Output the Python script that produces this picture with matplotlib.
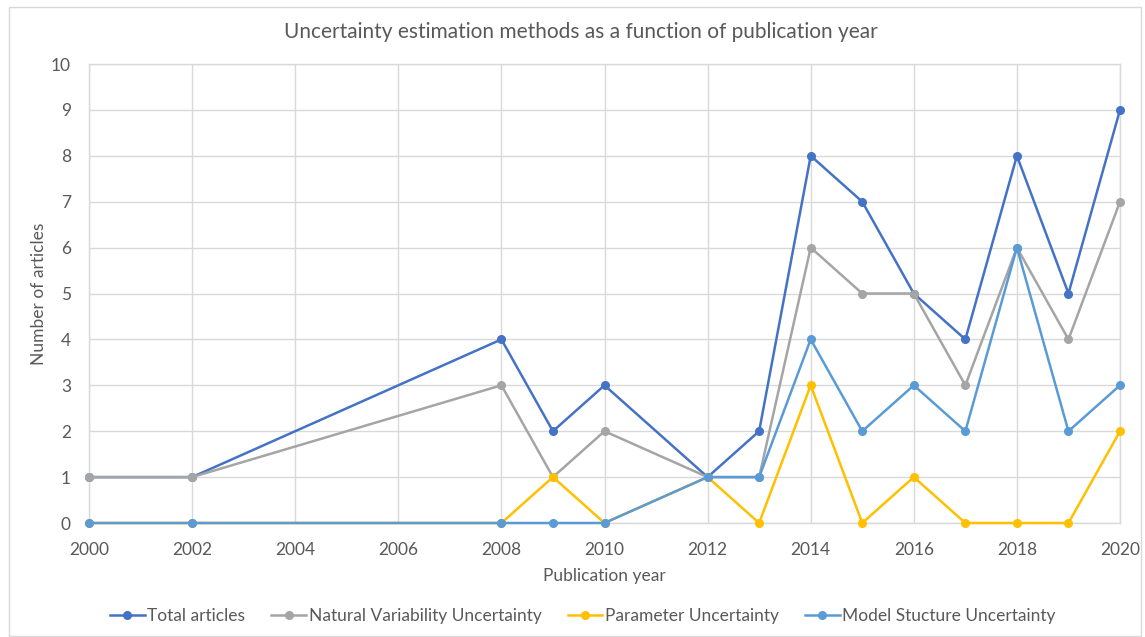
import matplotlib
matplotlib.use("Agg")
import matplotlib.pyplot as plt
import numpy as np
from matplotlib.patches import Rectangle

years = [2000, 2002, 2008, 2009, 2010, 2012, 2013, 2014, 2015, 2016, 2017, 2018, 2019, 2020]
total_articles = [1, 1, 4, 2, 3, 1, 2, 8, 7, 5, 4, 8, 5, 9]
natural_variability = [1, 1, 3, 1, 2, 1, 1, 6, 5, 5, 3, 6, 4, 7]
parameter_unc = [0, 0, 0, 1, 0, 1, 0, 3, 0, 1, 0, 0, 0, 2]
model_structure = [0, 0, 0, 0, 0, 1, 1, 4, 2, 3, 2, 6, 2, 3]

series_names = ["Total articles", "Natural Variability Uncertainty",
                "Parameter Uncertainty", "Model Stucture Uncertainty"]
series_values = [total_articles, natural_variability, parameter_unc, model_structure]
colors = ["#4472C4", "#A5A5A5", "#FFC000", "#5B9BD5"]

plt.rcParams['font.family'] = ['Lato', 'DejaVu Sans']
text_color = "#595959"
grid_color = "#D9D9D9"

fig = plt.figure(figsize=(11.45, 6.37), dpi=100)
ax = fig.add_axes([89/1145, 1-523/637, (1120-89)/1145, (523-64)/637])

for name, vals, c in zip(series_names, series_values, colors):
    ax.plot(years, vals, color=c, lw=1.8, marker='o', markersize=5.5, label=name, clip_on=False, zorder=3)

ax.set_xlim(2000, 2020)
ax.set_ylim(0, 10)
ax.set_xticks(range(2000, 2021, 2))
ax.set_yticks(range(0, 11))
ax.grid(True, color=grid_color, lw=1)
ax.set_axisbelow(True)
for s in ax.spines.values():
    s.set_color(grid_color)
    s.set_linewidth(1)
ax.tick_params(length=0, labelsize=12.5, colors=text_color)
ax.tick_params(axis='x', pad=14)
ax.tick_params(axis='y', pad=13)
ax.set_xlabel("Publication year", fontsize=12.5, color=text_color, labelpad=7)
ax.set_ylabel("Number of articles", fontsize=12.5, color=text_color, labelpad=3)
fig.text(581/1145, 1-32/637, "Uncertainty estimation methods as a function of publication year",
         ha='center', va='center', fontsize=15, color=text_color)

leg = fig.legend(loc='center', bbox_to_anchor=(583/1145, 1-616/637), ncol=4, frameon=False,
                 fontsize=12.5, handlelength=2.0, columnspacing=1.5, handletextpad=0.15)
for t in leg.get_texts():
    t.set_color(text_color)

fig.patches.append(Rectangle((9/1145, 1-636/637), (1141-9)/1145, (636-7)/637,
                             transform=fig.transFigure, fill=False, edgecolor=grid_color, lw=1))

fig.savefig("out.png", dpi=100, facecolor="white")
